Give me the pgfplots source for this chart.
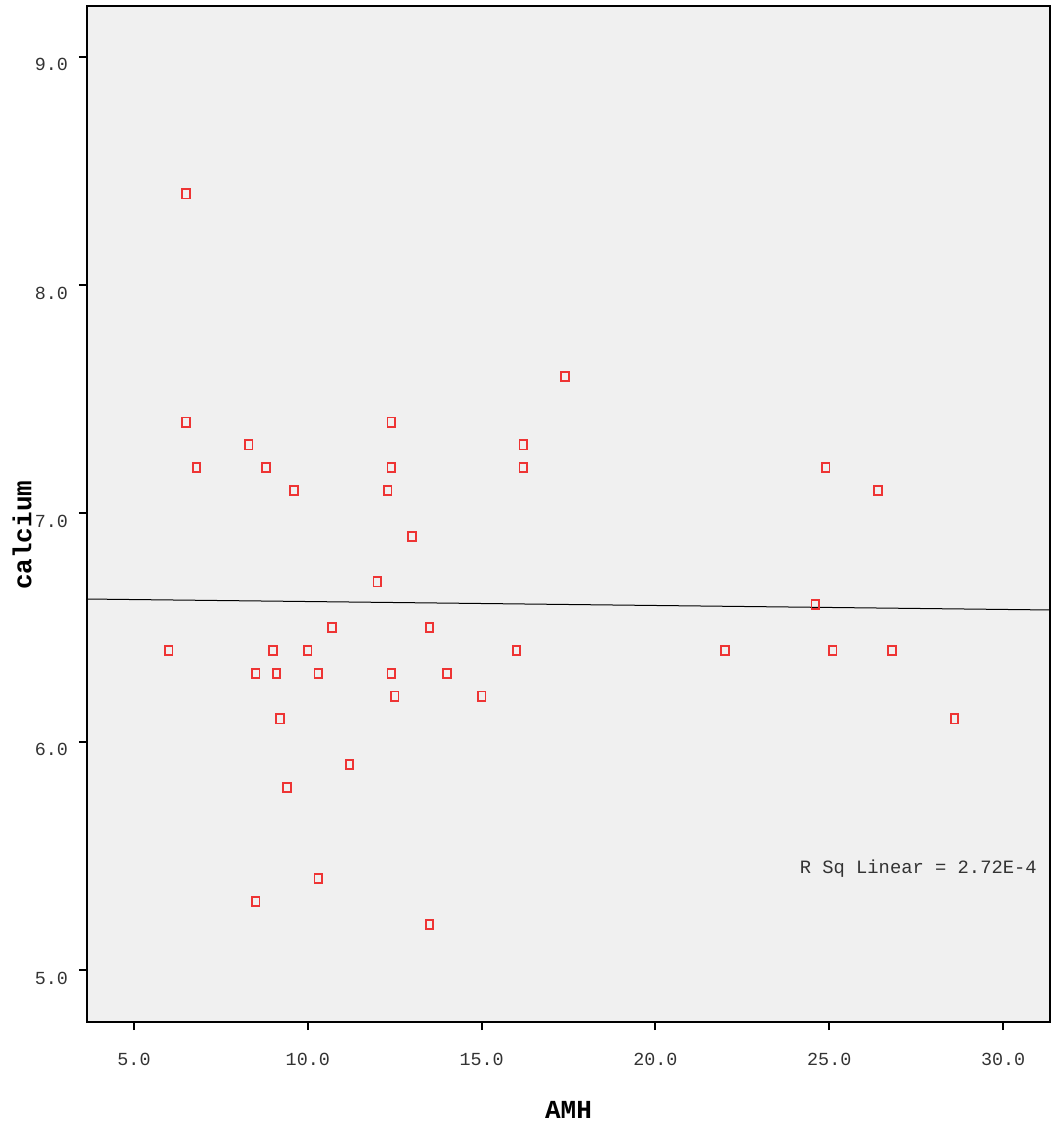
\documentclass[border=0pt]{standalone}
\usepackage{pgfplots}
\pgfplotsset{compat=1.18}
\usepackage{fontspec}
\setmainfont{Liberation Mono}
\definecolor{bgc}{RGB}{240,240,240}
\definecolor{mk}{RGB}{238,52,52}
\begin{document}
\begin{tikzpicture}
\begin{axis}[
  scale only axis,
  width=481.5pt, height=508pt,
  xmin=3.648, xmax=31.35,
  ymin=4.772, ymax=9.223,
  axis background/.style={fill=bgc},
  axis line style={line width=1pt},
  xtick={5,10,...,30}, ytick={5,6,7,8,9},
  xticklabel={\pgfmathprintnumber[fixed,fixed zerofill,precision=1]{\tick}},
  yticklabel={\pgfmathprintnumber[fixed,fixed zerofill,precision=1]{\tick}},
  /pgf/number format/assume math mode=true,
  tick align=outside, major tick length=4pt,
  tick style={line width=1pt, black},
  xtick pos=bottom, ytick pos=left,
  ticklabel style={font=\fontsize{9.2pt}{10pt}\selectfont, text=black!80},
  xticklabel style={yshift=-8pt},
  yticklabel style={xshift=-2pt, yshift=-4pt},
  xlabel={\textbf{AMH}}, ylabel={\textbf{calcium}},
  label style={font=\fontsize{13pt}{14pt}\selectfont},
  xlabel style={at={(axis description cs:0.5,0)}, anchor=center, yshift=-44pt},
  ylabel style={at={(axis description cs:-0.0675,0.479)}, anchor=center},
  clip=true,
]
\addplot[only marks, mark=square, mark size=2.3pt,
  mark options={xscale=0.82, draw=mk, line width=0.9pt, fill=none}] coordinates {
(6.5,8.4) (6.5,7.4) (6.8,7.2) (8.3,7.3) (8.8,7.2) (9.6,7.1)
(12.4,7.4) (12.4,7.2) (12.3,7.1) (13.0,6.9) (12.0,6.7) (17.4,7.6)
(16.2,7.3) (16.2,7.2) (24.9,7.2) (26.4,7.1) (24.6,6.6) (6.0,6.4)
(8.5,6.3) (9.0,6.4) (9.1,6.3) (9.2,6.1) (9.4,5.8) (10.0,6.4)
(10.3,6.3) (10.7,6.5) (11.2,5.9) (12.4,6.3) (12.5,6.2) (13.5,6.5)
(14.0,6.3) (15.0,6.2) (16.0,6.4) (22.0,6.4) (25.1,6.4) (26.8,6.4)
(28.6,6.1) (8.5,5.3) (10.3,5.4) (13.5,5.2)
};
\addplot[black, line width=0.5pt] coordinates {(3.648,6.625) (31.35,6.577)};
\node[anchor=east, font=\fontsize{9.4pt}{10pt}\selectfont, text=black!80] at (axis cs:31.17,5.445) {R Sq Linear = 2.72E-4};
\end{axis}
\path ([shift={(-43.5pt,-52pt)}]current axis.south west) rectangle ([shift={(2pt,3pt)}]current axis.north east);
\end{tikzpicture}
\end{document}
